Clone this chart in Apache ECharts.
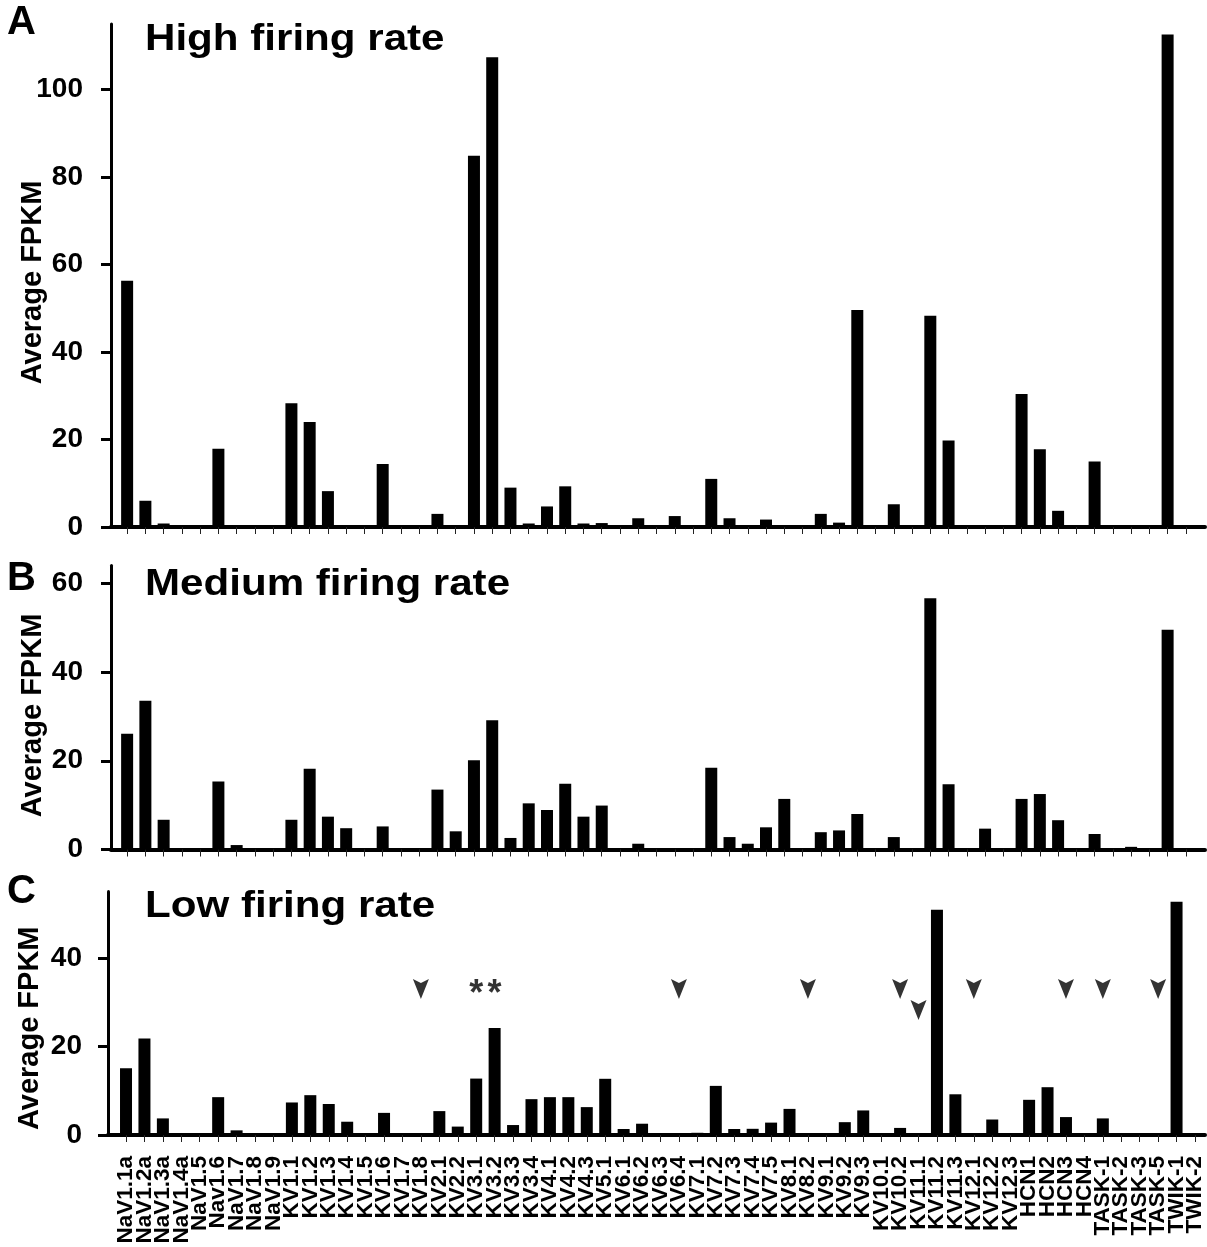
<!DOCTYPE html>
<html><head><meta charset="utf-8">
<script src="https://cdn.jsdelivr.net/npm/echarts@6/dist/echarts.min.js"></script>
<style>html,body{margin:0;padding:0;background:#fff}#c{width:1207px;height:1247px}</style>
</head><body><div id="c"></div>
<script>
const categories = ['NaV1.1a','NaV1.2a','NaV1.3a','NaV1.4a','NaV1.5','Nav1.6','NaV1.7','NaV1.8','NaV1.9',
  'KV1.1','KV1.2','KV1.3','KV1.4','KV1.5','KV1.6','KV1.7','KV1.8','KV2.1','KV2.2',
  'KV3.1','KV3.2','KV3.3','KV3.4','KV4.1','KV4.2','KV4.3','KV5.1','KV6.1','KV6.2','KV6.3','KV6.4',
  'KV7.1','KV7.2','KV7.3','KV7.4','KV7.5','KV8.1','KV8.2','KV9.1','KV9.2','KV9.3','KV10.1','KV10.2',
  'KV11.1','KV11.2','KV11.3','KV12.1','KV12.2','KV12.3','HCN1','HCN2','HCN3','HCN4',
  'TASK-1','TASK-2','TASK-3','TASK-5','TWIK-1','TWIK-2'];

const highRate = [56.3,6.0,0.8,0,0,17.9,0,0,0,
  28.3,24.0,8.2,0,0,14.4,0,0,3.0,0,
  84.9,107.4,9.0,0.8,4.7,9.3,0.8,0.9,0,2.0,0,2.5,
  0,11.0,2.0,0,1.7,0,0,3.0,1.0,49.6,0,5.2,
  0,48.3,19.8,0,0,0,30.4,17.8,3.7,0,
  15.0,0,0,0,112.6,0];

const mediumRate = [26.1,33.5,6.7,0,0,15.3,1.0,0,0,
  6.7,18.2,7.4,4.8,0,5.2,0,0,13.5,4.1,
  20.1,29.1,2.6,10.4,8.9,14.8,7.4,9.9,0,1.3,0,0,
  0,18.4,2.8,1.3,5.0,11.4,0,3.9,4.3,8.0,0,2.8,
  0,56.6,14.7,0,4.7,0,11.4,12.5,6.6,0,
  3.5,0,0.6,0,49.5,0];

const lowRate = [15.1,21.8,3.75,0,0,8.55,1.05,0,0,
  7.35,9.0,7.0,3.0,0,5.0,0,0,5.4,1.9,
  12.75,24.2,2.25,8.1,8.55,8.55,6.3,12.7,1.35,2.55,0,0,
  0.5,11.1,1.35,1.4,2.8,5.9,0,0,2.9,5.55,0,1.6,
  0,50.9,9.2,0,3.5,0,7.95,10.8,4.05,0,
  3.75,0,0,0,52.7,0];

const yTicksHigh = [0,20,40,60,80,100];
const yTicksMedium = [0,20,40,60];
const yTicksLow = [0,20,40];

// annotations in panel C: [category index, FPKM height]
const arrowMarks = [[16,33],[30,33],[37,33],[42,33],[43,28.25],[46,33],[51,33],[53,33],[56,33]];
const starMarks = [[19,31.6],[20,31.6]];

const panelTitles = ['High firing rate','Medium firing rate','Low firing rate'];
const panelLetters = ['A','B','C'];
const yMax = [115,64,55];

const FONT = '"Liberation Sans", Arial, sans-serif';
const panels = [
  {frameLeft:111, dataLeft:118, dataWidth:1077, top:24, height:503, data:highRate, ticks:yTicksHigh, namePad:14, labels:false, lblMargin:28, titleY:40, letterY:23},
  {frameLeft:111, dataLeft:118, dataWidth:1077, top:565.5, height:284, data:mediumRate, ticks:yTicksMedium, namePad:16, labels:false, lblMargin:28, titleY:585, letterY:579},
  {frameLeft:108, dataLeft:116.8, dataWidth:1087.4, top:891.6, height:243.4, data:lowRate, ticks:yTicksLow, namePad:30, labels:true, lblMargin:26, titleY:907, letterY:892}
];

const grid = [], xAxis = [], yAxis = [], series = [], graphic = [];
panels.forEach((p, i) => {
  grid.push({left:p.frameLeft, right:2, top:p.top, height:p.height, containLabel:false, outerBoundsMode:'none'});
  grid.push({left:p.dataLeft, width:p.dataWidth, top:p.top, height:p.height, containLabel:false, outerBoundsMode:'none'});
  xAxis.push({type:'value', gridIndex:2*i, min:0, max:1,
    axisLine:{show:true, onZero:false, lineStyle:{color:'#000', width:4}},
    axisTick:{show:false}, axisLabel:{show:false}, splitLine:{show:false}});
  xAxis.push({type:'category', gridIndex:2*i+1, data:categories, boundaryGap:true,
    axisLine:{show:false},
    axisTick:{show:true, alignWithLabel:true, interval:0, length:7, lineStyle:{color:'#222', width:1}},
    axisLabel:{show:p.labels, interval:0, rotate:90, margin:21, fontSize:22.5, fontWeight:'bold', fontFamily:FONT, color:'#000'},
    splitLine:{show:false}});
  yAxis.push({type:'value', gridIndex:2*i, min:0, max:yMax[i], interval:20,
    axisLine:{show:true, lineStyle:{color:'#000', width:3}},
    axisTick:{show:true, length:10, lineStyle:{color:'#000', width:3}, customValues:p.ticks},
    axisLabel:{customValues:p.ticks, margin:p.lblMargin, fontSize:28, fontWeight:'bold', fontFamily:FONT, color:'#000'},
    splitLine:{show:false},
    name:'Average FPKM', nameLocation:'middle', nameGap:64, nameMoveOverlap:false,
    nameTextStyle:{fontSize:29, fontWeight:'bold', fontFamily:FONT, color:'#000', padding:[0,p.namePad,0,0]}});
  yAxis.push({type:'value', gridIndex:2*i+1, min:0, max:yMax[i], show:false, splitLine:{show:false}});
  series.push({type:'bar', xAxisIndex:2*i+1, yAxisIndex:2*i+1, data:p.data, barWidth:12,
    itemStyle:{color:'#000'}, silent:true, animation:false});
  graphic.push({type:'text', x:145, y:p.titleY, scaleX:1.17,
    style:{text:panelTitles[i], font:'bold 36px ' + FONT, fill:'#000', verticalAlign:'middle'}});
  graphic.push({type:'text', x:7, y:p.letterY,
    style:{text:panelLetters[i], font:'bold 40px ' + FONT, fill:'#000', verticalAlign:'middle'}});
});

series.push({type:'scatter', xAxisIndex:5, yAxisIndex:5, data:arrowMarks,
  symbol:'path://M0,0 L8,4 L16,0 L8,20 Z', symbolSize:[16,20], itemStyle:{color:'#000'}, silent:true, animation:false});
series.push({type:'scatter', xAxisIndex:5, yAxisIndex:5, data:starMarks,
  symbolSize:2, itemStyle:{color:'rgba(0,0,0,0)'}, silent:true, animation:false,
  label:{show:true, position:'inside', formatter:'*', fontSize:36, fontWeight:'bold', fontFamily:FONT, color:'#000'}});

const chart = echarts.init(document.getElementById('c'), null, {renderer:'canvas'});
chart.setOption({animation:false, backgroundColor:'#fff', grid, xAxis, yAxis, series, graphic});
</script>
</body></html>
